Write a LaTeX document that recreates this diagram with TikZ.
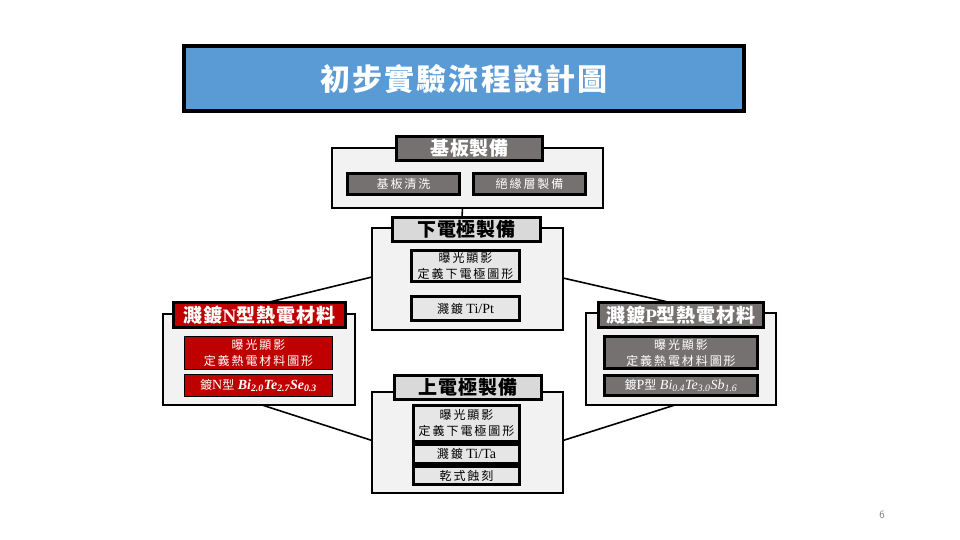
\documentclass[tikz,border=0pt]{standalone}
\usepackage{fontspec}
\setmainfont{Liberation Serif}
\newfontfamily\cjk{Noto Sans CJK TC}
\newfontfamily\cjkhdr[LetterSpace=5]{Noto Sans CJK TC}
\newfontfamily\cjksub[LetterSpace=16]{Noto Sans CJK TC}
\newfontfamily\cjkttl[LetterSpace=7]{Noto Sans CJK TC}
\usetikzlibrary{calc}
\definecolor{ttlblue}{HTML}{5B9BD5}
\definecolor{contgray}{HTML}{F2F2F2}
\definecolor{darkbox}{HTML}{767171}
\definecolor{lighthdr}{HTML}{D9D9D9}
\definecolor{lightsub}{HTML}{E7E6E6}
\definecolor{nred}{HTML}{C00000}
\newcommand{\lat}[1]{{\rmfamily\fontsize{14}{16}\selectfont #1}}
\tikzset{
  cont/.style={draw=black, line width=1.5pt, fill=contgray, inner sep=0pt, outer sep=0pt},
  hdr/.style={draw=black, line width=3pt, inner sep=0pt, outer sep=0pt, font=\cjkhdr\bfseries\fontsize{19}{22}\selectfont},
  subbox/.style={draw=black, line width=3pt, inner sep=0pt, outer sep=0pt, align=center, font=\cjksub\fontsize{12}{16}\selectfont},
  nsub/.style={draw=black, line width=1pt, inner sep=0pt, outer sep=0pt, align=center, fill=nred, text=white, font=\cjksub\fontsize{12}{16}\selectfont},
  conn/.style={draw=black, line width=1.6pt}
}
\begin{document}
\begin{tikzpicture}[x=1pt,y=-1pt]
\useasboundingbox[fill=white] (0,0) rectangle (960,540);

% title
\node[draw=black, line width=4pt, fill=ttlblue, minimum width=560pt, minimum height=65pt, inner sep=0pt,
      text=white, font=\cjkttl\bfseries\fontsize{30}{36}\selectfont] (title) at (464,79) {初步實驗流程設計圖};

% containers
\node[cont, minimum width=271pt, minimum height=60pt] (C1) at (467.5,178) {};
\node[cont, minimum width=191pt, minimum height=102pt] (C2) at (467.5,279) {};
\node[cont, minimum width=192pt, minimum height=91pt] (CN) at (259,359.5) {};
\node[cont, minimum width=190pt, minimum height=92pt] (CP) at (681,359) {};
\node[cont, minimum width=191pt, minimum height=101pt] (C4) at (467.5,442.5) {};

% stage 1: substrate
\node[hdr, fill=darkbox, text=white, minimum width=146pt, minimum height=24pt] (H1) at (469.5,148.5) {基板製備};
\node[subbox, fill=darkbox, text=white, minimum width=112pt, minimum height=21pt] (S1a) at (403.5,184) {基板清洗};
\node[subbox, fill=darkbox, text=white, minimum width=112pt, minimum height=21pt] (S1b) at (529.5,184) {絕緣層製備};

% stage 2: bottom electrode
\node[hdr, fill=lighthdr, minimum width=148pt, minimum height=24pt] (H2) at (466.5,229.5) {下電極製備};
\node[subbox, fill=lightsub, minimum width=108pt, minimum height=31pt] (S2a) at (465.5,266) {曝光顯影\\定義下電極圖形};
\node[subbox, fill=lightsub, minimum width=108pt, minimum height=24pt] (S2b) at (465.5,308.5) {濺鍍\lat{\ Ti/Pt}};

% N type
\node[hdr, fill=nred, text=white, minimum width=172pt, minimum height=25pt] (HN) at (259.5,315) {濺鍍{\rmfamily N}型熱電材料};
\node[nsub, minimum width=148pt, minimum height=33pt] (SNa) at (258.5,352.5) {曝光顯影\\定義熱電材料圖形};
\node[nsub, minimum width=148pt, minimum height=22pt] (SNb) at (258.5,385.5) {鍍\lat{N}型\lat{ \bfseries\itshape Bi\textsubscript{2.0}Te\textsubscript{2.7}Se\textsubscript{0.3}}};

% P type
\node[hdr, fill=darkbox, text=white, minimum width=165pt, minimum height=25pt] (HP) at (681,315) {濺鍍{\rmfamily P}型熱電材料};
\node[subbox, fill=darkbox, text=white, minimum width=153pt, minimum height=32pt] (SPa) at (681,352.5) {曝光顯影\\定義熱電材料圖形};
\node[subbox, fill=darkbox, text=white, minimum width=153pt, minimum height=20pt] (SPb) at (681,385.5) {鍍\lat{P}型\lat{ \itshape Bi\textsubscript{0.4}Te\textsubscript{3.0}Sb\textsubscript{1.6}}};

% stage 4: top electrode
\node[hdr, fill=lighthdr, minimum width=147pt, minimum height=24pt] (H4) at (468,387.5) {上電極製備};
\node[subbox, fill=lightsub, minimum width=106pt, minimum height=36pt] (S4a) at (466.5,423) {曝光顯影\\定義下電極圖形};
\node[subbox, fill=lightsub, minimum width=106pt, minimum height=19pt] (S4b) at (466.5,453.5) {濺鍍\lat{\ Ti/Ta}};
\node[subbox, fill=lightsub, minimum width=106pt, minimum height=18pt] (S4c) at (466.5,475.5) {乾式蝕刻};

% connectors
\draw[conn] ($(C1.south)+(-5,0)$) -- ($(H2.north)+(-4.5,0)$);
\draw[conn] ($(C2.west)+(0,-2)$) -- ($(HN.north)+(8,0)$);
\draw[conn] ($(C2.east)+(0,-1)$) -- ($(HP.north)+(-11,0)$);
\draw[conn] ($(CN.south)+(3,0)$) -- ($(C4.west)+(0,-2)$);
\draw[conn] ($(CP.south)+(-6,0)$) -- ($(C4.east)+(0,-2)$);

% page number
\node[text=gray, font=\sffamily\fontsize{11}{12}\selectfont, inner sep=0pt] (pg) at (882,515) {6};
\end{tikzpicture}
\end{document}
